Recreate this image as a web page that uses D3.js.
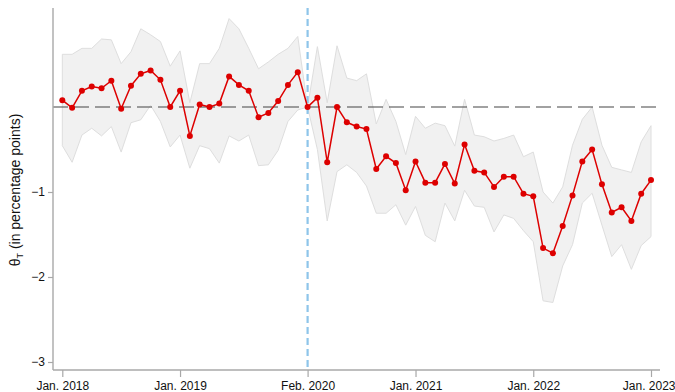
<!DOCTYPE html>
<html>
<head>
<meta charset="utf-8">
<script src="https://cdn.jsdelivr.net/npm/d3@7"></script>
<style>
  html, body { margin: 0; padding: 0; background: #fff; }
  svg { display: block; font-family: "Liberation Sans", Arial, sans-serif; }
</style>
</head>
<body>
<svg id="chart" width="675" height="392"></svg>
<script>
// Monthly estimates, Jan. 2018 (month 0) to Jan. 2023 (month 60)
const months = d3.range(0, 61);
const estimate = [
  0.08, -0.01, 0.19, 0.24, 0.22, 0.31, -0.02, 0.25, 0.39, 0.43, 0.32, 0.00,
  0.19, -0.34, 0.03, 0.00, 0.04, 0.36, 0.26, 0.19, -0.12, -0.07, 0.07, 0.26,
  0.41, 0.00, 0.11, -0.65, 0.00, -0.18, -0.23, -0.26, -0.73, -0.58, -0.66, -0.98,
  -0.64, -0.89, -0.89, -0.67, -0.90, -0.44, -0.75, -0.77, -0.94, -0.82, -0.82, -1.02,
  -1.05, -1.66, -1.72, -1.40, -1.04, -0.64, -0.50, -0.91, -1.24, -1.18, -1.34, -1.02,
  -0.86
];
const upper = [
  0.62, 0.62, 0.69, 0.69, 0.80, 0.79, 0.51, 0.65, 0.92, 0.85, 0.77, 0.48,
  0.66, 0.05, 0.51, 0.51, 0.69, 1.04, 0.92, 0.69, 0.45, 0.53, 0.62, 0.69,
  0.83, 0.00, 0.71, 0.05, 0.72, 0.34, 0.31, 0.39, -0.20, 0.09, -0.17, -0.56,
  -0.11, -0.25, -0.19, -0.22, -0.46, 0.09, -0.33, -0.35, -0.40, -0.37, -0.33, -0.585,
  -0.53, -1.00, -1.13, -0.94, -0.45, -0.145, 0.00, -0.45, -0.71, -0.74, -0.77, -0.41,
  -0.22
];
const lower = [
  -0.455, -0.65, -0.33, -0.25, -0.34, -0.23, -0.53, -0.185, -0.15, 0.02, -0.17, -0.47,
  -0.33, -0.72, -0.455, -0.49, -0.66, -0.34, -0.40, -0.33, -0.69, -0.68, -0.51, -0.17,
  -0.035, 0.00, -0.50, -1.34, -0.76, -0.68, -0.77, -0.93, -1.25, -1.25, -1.15, -1.39,
  -1.17, -1.51, -1.585, -1.13, -1.34, -0.98, -1.165, -1.18, -1.47, -1.27, -1.31, -1.455,
  -1.585, -2.28, -2.30, -1.87, -1.62, -1.13, -1.015, -1.39, -1.76, -1.62, -1.91, -1.63,
  -1.525
];
const xTickMonths = [0, 12, 25, 36, 48, 60];
const xTickLabels = ["Jan. 2018", "Jan. 2019", "Feb. 2020", "Jan. 2021", "Jan. 2022", "Jan. 2023"];
const yTickValues = [-1, -2, -3];
const breakMonth = 25;

const svg = d3.select("#chart");

const x = d3.scaleLinear().domain([0, 60]).range([62.3, 651]);
const y = d3.scaleLinear().domain([-3, 0]).range([362, 107]);

const plotLeft = 53, plotRight = 660, plotTop = 8, plotBottom = 370;

const data = months.map((m, i) => ({ m, est: estimate[i], lo: lower[i], hi: upper[i] }));

// confidence band
const band = d3.area()
  .x(d => x(d.m))
  .y0(d => y(d.lo))
  .y1(d => y(d.hi));
svg.append("path")
  .datum(data)
  .attr("d", band)
  .attr("fill", "#f1f1f1")
  .attr("stroke", "#dedede")
  .attr("stroke-width", 1);

// zero reference line
svg.append("line")
  .attr("x1", plotLeft).attr("x2", plotRight)
  .attr("y1", y(0)).attr("y2", y(0))
  .attr("stroke", "#444")
  .attr("stroke-width", 1.2)
  .attr("stroke-dasharray", "15,6");

// break marker
svg.append("line")
  .attr("x1", x(breakMonth)).attr("x2", x(breakMonth))
  .attr("y1", plotTop).attr("y2", plotBottom)
  .attr("stroke", "#8ec5ea")
  .attr("stroke-width", 2.2)
  .attr("stroke-dasharray", "7,4");

// axes
const axisColor = "#a8a8a8";
const yAxis = d3.axisLeft(y).tickValues(yTickValues).tickSize(5).tickFormat(d3.format("d"));
const gy = svg.append("g").attr("transform", `translate(${plotLeft},0)`).call(yAxis);
gy.select(".domain").remove();
gy.selectAll(".tick line").attr("stroke", axisColor).attr("stroke-width", 1.2);
gy.selectAll(".tick text").attr("font-size", 12).attr("fill", "#111").attr("x", -8)
  .attr("font-family", "Liberation Sans, Arial, sans-serif");

const xAxis = d3.axisBottom(x).tickValues(xTickMonths).tickSize(7)
  .tickFormat((d, i) => xTickLabels[i]);
const gx = svg.append("g").attr("transform", `translate(0,${plotBottom})`).call(xAxis);
gx.select(".domain").remove();
gx.selectAll(".tick line").attr("stroke", axisColor).attr("stroke-width", 1.2);
gx.selectAll(".tick text").attr("font-size", 12).attr("fill", "#111").attr("y", 11)
  .attr("font-family", "Liberation Sans, Arial, sans-serif");
// keep the last label inside the page edge
gx.selectAll(".tick text").filter(d => d === 60).attr("text-anchor", "end").attr("dx", 24);

svg.append("line")
  .attr("x1", plotLeft).attr("x2", plotLeft)
  .attr("y1", plotTop).attr("y2", plotBottom)
  .attr("stroke", axisColor).attr("stroke-width", 1.4);
svg.append("line")
  .attr("x1", plotLeft).attr("x2", plotRight)
  .attr("y1", plotBottom).attr("y2", plotBottom)
  .attr("stroke", axisColor).attr("stroke-width", 1.4);

// y axis title
const yTitle = svg.append("text")
  .attr("transform", "translate(20,190) rotate(-90)")
  .attr("text-anchor", "middle")
  .attr("font-size", 14)
  .attr("fill", "#111");
yTitle.append("tspan").text("θ");
yTitle.append("tspan").attr("font-size", 9).attr("dy", 3).text("T");
yTitle.append("tspan").attr("dy", -3).text(" (in percentage points)");

// estimate line and points
const line = d3.line().x(d => x(d.m)).y(d => y(d.est));
svg.append("path")
  .datum(data)
  .attr("d", line)
  .attr("fill", "none")
  .attr("stroke", "#dd0000")
  .attr("stroke-width", 1.5);
svg.append("g").selectAll("circle")
  .data(data)
  .join("circle")
  .attr("cx", d => x(d.m))
  .attr("cy", d => y(d.est))
  .attr("r", 3)
  .attr("fill", "#dd0000");
</script>
</body>
</html>
